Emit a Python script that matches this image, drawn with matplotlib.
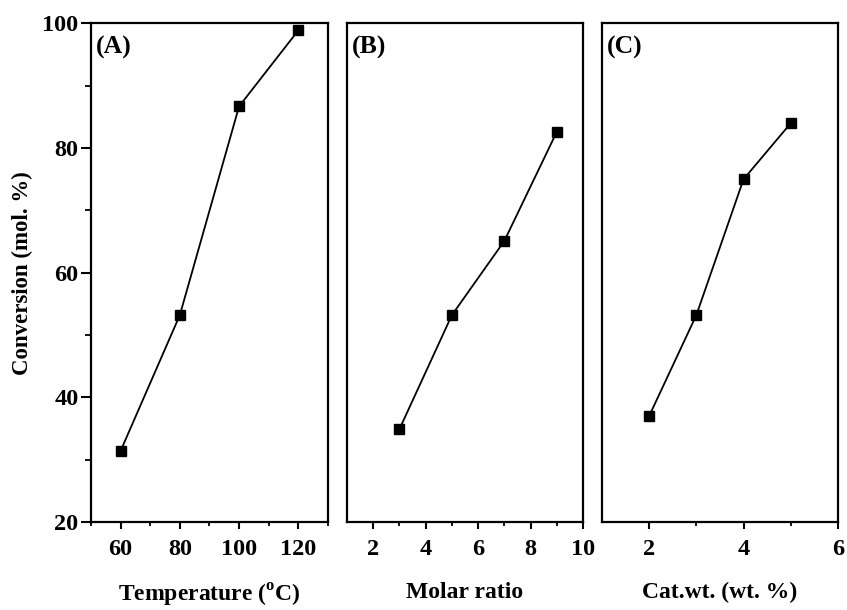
import matplotlib
matplotlib.use("Agg")
import matplotlib.pyplot as plt
from matplotlib.ticker import MultipleLocator

plt.rcParams['font.family'] = 'Liberation Serif'
plt.rcParams['font.weight'] = 'bold'
plt.rcParams['mathtext.fontset'] = 'custom'
plt.rcParams['mathtext.bf'] = 'Liberation Serif:bold'
plt.rcParams['mathtext.rm'] = 'Liberation Serif:bold'

# conversion vs reaction temperature
temperature = [60, 80, 100, 120]
conv_temp = [31.4, 53.2, 86.7, 98.9]

# conversion vs molar ratio
molar_ratio = [3, 5, 7, 9]
conv_ratio = [34.9, 53.2, 65.1, 82.6]

# conversion vs catalyst weight
cat_wt = [2, 3, 4, 5]
conv_cat = [37.0, 53.2, 75.0, 84.0]

panel_labels = ['(A)', '(B)', '(C)']
x_labels = ['Temperature ($^{\\mathrm{o}}$C)', 'Molar ratio', 'Cat.wt. (wt. %)']

fig = plt.figure(figsize=(8.47, 6.10), dpi=100)
bottom, height = 0.1443, 0.8172
axA = fig.add_axes([0.1074, bottom, 0.2798, height])
axB = fig.add_axes([0.4097, bottom, 0.2786, height])
axC = fig.add_axes([0.7107, bottom, 0.2786, height])

axA.plot(temperature, conv_temp, color='black', lw=1.3, marker='s', ms=7)
axA.set_xlim(50, 130)
axA.xaxis.set_major_locator(MultipleLocator(20))
axA.xaxis.set_minor_locator(MultipleLocator(10))

axB.plot(molar_ratio, conv_ratio, color='black', lw=1.3, marker='s', ms=7)
axB.set_xlim(1, 10)
axB.set_xticks([2, 4, 6, 8, 10])
axB.set_xticks([3, 5, 7, 9], minor=True)

axC.plot(cat_wt, conv_cat, color='black', lw=1.3, marker='s', ms=7)
axC.set_xlim(1, 6)
axC.set_xticks([2, 4, 6])
axC.set_xticks([3, 5], minor=True)

for i, ax in enumerate([axA, axB, axC]):
    ax.set_ylim(20, 100)
    for s in ax.spines.values():
        s.set_linewidth(1.6)
    ax.tick_params(axis='x', which='major', direction='out', length=5, width=1.5,
                   labelsize=17.5, pad=7)
    ax.tick_params(axis='x', which='minor', direction='out', length=3, width=1.3)
    ax.set_xlabel(x_labels[i], fontsize=17, fontweight='bold', labelpad=16)
    ax.text(0.02, 0.975, panel_labels[i], transform=ax.transAxes, fontsize=18.5,
            fontweight='bold', va='top', ha='left')
    if i == 0:
        ax.yaxis.set_major_locator(MultipleLocator(20))
        ax.yaxis.set_minor_locator(MultipleLocator(10))
        ax.tick_params(axis='y', which='major', direction='out', length=7, width=1.5,
                       labelsize=17.5, pad=2)
        ax.tick_params(axis='y', which='minor', direction='out', length=4, width=1.3)
    else:
        ax.set_yticks([])
        ax.set_yticks([], minor=True)

fig.text(0.026, 0.553, 'Conversion (mol. %)', rotation=90, fontsize=16.5,
         fontweight='bold', ha='center', va='center')

fig.savefig('out.png', dpi=100)
